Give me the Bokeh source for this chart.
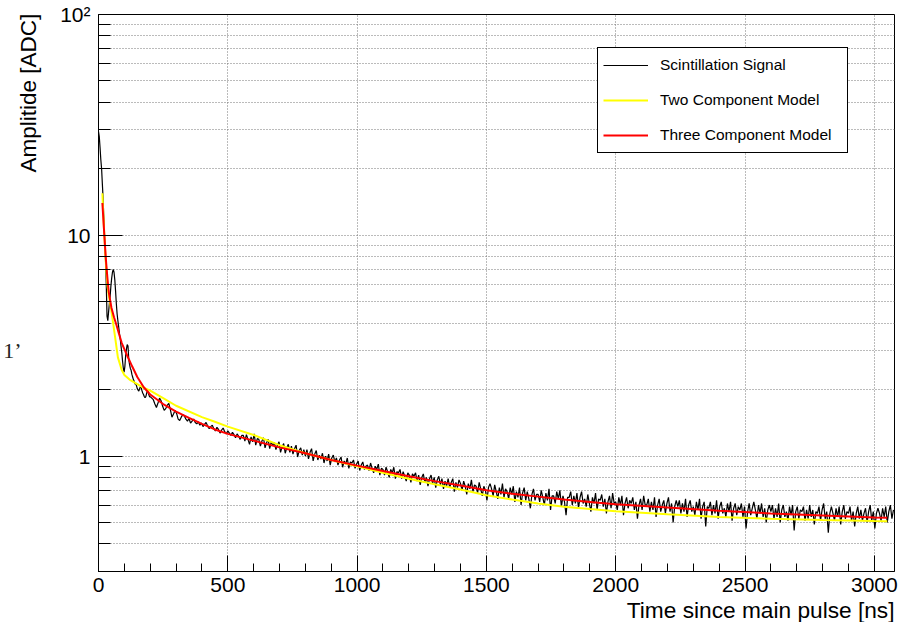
import numpy as np
from bokeh.plotting import figure
from bokeh.models import (Legend, LegendItem, Title, LogAxis,
                          FixedTicker, SingleIntervalTicker)
from bokeh.embed import file_html
from bokeh.resources import INLINE

# ---- data -------------------------------------------------------------
# Scintillation signal, first 200 ns sampled every 3 ns (prompt peak + ringing)
early_step = 3
signal_early = [
    29.5, 28.0, 25.0, 22.0, 20.0, 17.0, 14.5, 11.5, 9.5, 7.8,
    6.0, 4.3, 4.1, 4.5, 4.9, 5.3, 5.9, 6.4, 6.8, 7.0,
    6.8, 6.3, 5.6, 4.9, 4.4, 4.1, 3.85, 3.6, 3.4, 3.15,
    2.95, 2.7, 2.5, 2.4, 2.55, 2.85, 3.05, 3.2, 3.15, 2.75,
    2.6, 2.5, 2.45, 2.35, 2.28, 2.22, 2.18, 2.12, 2.13, 2.08,
    2.02, 1.99, 1.97, 2.02, 2.06, 2.04, 1.98, 1.93, 1.90, 1.86,
    1.84, 1.86, 1.92, 1.97, 1.95, 1.89, 1.85,
]

# Scintillation signal from 200 ns on, sampled every 6 ns (slow tail)
late_start = 200
late_step = 6
signal_late = [
    1.86, 1.83, 1.80, 1.72, 1.66, 1.74, 1.83, 1.78, 1.68, 1.61,
    1.64, 1.70, 1.73, 1.62, 1.50, 1.55, 1.61, 1.56, 1.47, 1.45,
    1.50, 1.54, 1.52, 1.47, 1.44, 1.48, 1.41, 1.44, 1.47, 1.42,
    1.40, 1.43, 1.38, 1.41, 1.36, 1.39, 1.42, 1.37, 1.33, 1.36,
    1.38, 1.33, 1.30, 1.35, 1.32, 1.27, 1.31, 1.34, 1.29, 1.26,
    1.30, 1.27, 1.24, 1.28, 1.25, 1.21, 1.26, 1.23, 1.19, 1.24,
    1.24, 1.17, 1.25, 1.19, 1.13, 1.22, 1.16, 1.26, 1.12, 1.20,
    1.19, 1.11, 1.17, 1.21, 1.09, 1.15, 1.19, 1.08, 1.16, 1.12,
    1.15, 1.07, 1.12, 1.16, 1.04, 1.10, 1.14, 1.03, 1.09, 1.13,
    1.04, 1.11, 1.02, 1.08, 1.12, 0.99, 1.06, 1.09, 1.01, 1.07,
    1.00, 1.07, 0.97, 1.04, 1.08, 0.95, 1.02, 1.06, 0.96, 1.01,
    0.97, 1.03, 0.93, 1.00, 0.95, 1.02, 0.91, 0.98, 1.01, 0.94,
    0.98, 0.91, 0.96, 0.99, 0.89, 0.95, 0.92, 0.98, 0.88, 0.94,
    0.93, 0.96, 0.88, 0.92, 0.95, 0.86, 0.91, 0.94, 0.87, 0.90,
    0.91, 0.86, 0.93, 0.88, 0.84, 0.90, 0.87, 0.92, 0.82, 0.88,
    0.87, 0.82, 0.89, 0.85, 0.80, 0.87, 0.84, 0.89, 0.79, 0.85,
    0.84, 0.87, 0.79, 0.85, 0.81, 0.77, 0.84, 0.82, 0.76, 0.83,
    0.81, 0.84, 0.77, 0.82, 0.74, 0.80, 0.83, 0.76, 0.80, 0.73,
    0.79, 0.82, 0.75, 0.80, 0.72, 0.78, 0.81, 0.74, 0.79, 0.71,
    0.77, 0.73, 0.79, 0.72, 0.76, 0.79, 0.69, 0.76, 0.72, 0.78,
    0.75, 0.70, 0.77, 0.73, 0.67, 0.75, 0.71, 0.78, 0.69, 0.74,
    0.73, 0.68, 0.76, 0.71, 0.66, 0.73, 0.70, 0.63, 0.72, 0.75,
    0.71, 0.66, 0.74, 0.69, 0.64, 0.72, 0.67, 0.75, 0.65, 0.71,
    0.69, 0.64, 0.72, 0.67, 0.73, 0.62, 0.69, 0.65, 0.72, 0.60,
    0.68, 0.72, 0.63, 0.69, 0.64, 0.58, 0.67, 0.71, 0.63, 0.67,
    0.67, 0.62, 0.70, 0.65, 0.60, 0.68, 0.63, 0.71, 0.57, 0.66,
    0.66, 0.61, 0.69, 0.64, 0.70, 0.59, 0.66, 0.62, 0.54, 0.65,
    0.65, 0.69, 0.60, 0.66, 0.61, 0.68, 0.58, 0.65, 0.69, 0.61,
    0.64, 0.59, 0.67, 0.61, 0.56, 0.65, 0.61, 0.68, 0.57, 0.64,
    0.63, 0.67, 0.59, 0.64, 0.55, 0.62, 0.66, 0.58, 0.68, 0.61,
    0.62, 0.57, 0.65, 0.60, 0.66, 0.54, 0.61, 0.65, 0.58, 0.63,
    0.61, 0.65, 0.57, 0.62, 0.52, 0.60, 0.64, 0.57, 0.66, 0.60,
    0.60, 0.64, 0.56, 0.62, 0.57, 0.65, 0.53, 0.60, 0.64, 0.56,
    0.60, 0.63, 0.55, 0.61, 0.65, 0.56, 0.61, 0.50, 0.59, 0.63,
    0.59, 0.63, 0.55, 0.61, 0.56, 0.64, 0.53, 0.60, 0.63, 0.56,
    0.59, 0.54, 0.62, 0.57, 0.64, 0.52, 0.59, 0.62, 0.48, 0.59,
    0.58, 0.62, 0.54, 0.60, 0.55, 0.63, 0.52, 0.59, 0.62, 0.55,
    0.58, 0.53, 0.61, 0.56, 0.62, 0.51, 0.58, 0.61, 0.54, 0.59,
    0.57, 0.61, 0.53, 0.59, 0.47, 0.56, 0.61, 0.54, 0.58, 0.62,
    0.57, 0.52, 0.60, 0.55, 0.61, 0.53, 0.58, 0.50, 0.57, 0.60,
    0.56, 0.60, 0.52, 0.58, 0.53, 0.61, 0.50, 0.57, 0.60, 0.53,
    0.56, 0.51, 0.59, 0.54, 0.60, 0.46, 0.56, 0.59, 0.52, 0.57,
    0.56, 0.59, 0.51, 0.57, 0.52, 0.60, 0.53, 0.57, 0.49, 0.56,
    0.55, 0.59, 0.51, 0.57, 0.61, 0.52, 0.56, 0.45, 0.55, 0.59,
    0.55, 0.51, 0.58, 0.53, 0.59, 0.49, 0.56, 0.60, 0.52, 0.56,
    0.55, 0.59, 0.51, 0.56, 0.48, 0.55, 0.59, 0.52, 0.57, 0.51,
    0.55, 0.58, 0.50, 0.56, 0.60, 0.51, 0.56, 0.47, 0.55, 0.58,
    0.55, 0.51, 0.58, 0.53, 0.59, 0.50, 0.56, 0.60, 0.52, 0.57,
]

# Two component fit
two_t = [15, 20, 25, 30, 35, 40, 48, 60, 75, 90, 100, 120, 140, 170, 200,
         250, 300, 400, 450, 500, 600, 700, 800, 900, 1000, 1100, 1200,
         1300, 1400, 1500, 1600, 1700, 1800, 1900, 2000, 2200, 2400, 2600,
         2800, 3000, 3050]
two_val = [15.5, 11.5, 8.8, 7.0, 5.9, 5.3, 4.7, 3.75, 2.8, 2.45, 2.33, 2.22,
           2.15, 2.05, 1.98, 1.83, 1.69, 1.50, 1.43, 1.36, 1.245, 1.12, 1.03,
           0.96, 0.90, 0.84, 0.79, 0.745, 0.705, 0.665, 0.635, 0.61, 0.59,
           0.575, 0.563, 0.545, 0.53, 0.52, 0.513, 0.508, 0.507]

# Three component fit
three_t = [15, 20, 25, 30, 35, 40, 50, 60, 70, 80, 90, 100, 115, 130, 150,
           175, 200, 250, 300, 350, 400, 450, 500, 600, 700, 800, 900, 1000,
           1100, 1200, 1300, 1400, 1500, 1600, 1700, 1800, 1900, 2000, 2200,
           2400, 2600, 2800, 3000, 3050]
three_val = [14.0, 11.2, 9.0, 7.4, 6.3, 5.5, 4.7, 4.25, 3.9, 3.55, 3.25, 3.05,
             2.78, 2.55, 2.28, 2.05, 1.90, 1.72, 1.59, 1.49, 1.40, 1.32, 1.26,
             1.175, 1.095, 1.03, 0.96, 0.905, 0.855, 0.81, 0.77, 0.735, 0.70,
             0.675, 0.655, 0.635, 0.62, 0.605, 0.585, 0.565, 0.55, 0.538,
             0.527, 0.525]

y_major = [1, 10, 100]
y_minor = [0.3, 0.4, 0.5, 0.6, 0.7, 0.8, 0.9,
           2, 3, 4, 5, 6, 7, 8, 9,
           20, 30, 40, 50, 60, 70, 80, 90]
y_labels = {1: "1", 10: "10", 100: "10\u00b2"}

time = np.concatenate([
    np.arange(len(signal_early)) * early_step,
    late_start + np.arange(len(signal_late)) * late_step,
])
signal = np.array(signal_early + signal_late)

# ---- figure -----------------------------------------------------------
FONT = "Liberation Sans"

p = figure(width=900, height=622, y_axis_type="log",
           x_range=(0, 3078), y_range=(0.3, 100),
           output_backend="svg", toolbar_location=None,
           min_border_left=97, min_border_right=6,
           min_border_top=14, min_border_bottom=51)
p.background_fill_color = "white"
p.border_fill_color = "white"
p.outline_line_color = "black"
p.outline_line_alpha = 1.0
p.outline_line_width = 1

# axes
xax = p.xaxis[0]
yax = p.yaxis[0]
xax.ticker = SingleIntervalTicker(interval=500, num_minor_ticks=5)
yax.ticker = FixedTicker(ticks=y_major, minor_ticks=y_minor)
yax.major_label_overrides = y_labels
for ax in (xax, yax):
    ax.major_tick_out = 0
    ax.minor_tick_out = 0
    ax.axis_line_color = "black"
    ax.major_tick_line_color = "black"
    ax.minor_tick_line_color = "black"
    ax.major_label_text_font = FONT
    ax.major_label_text_font_size = "21px"
    ax.major_label_text_color = "black"
xax.major_tick_in = 16
xax.minor_tick_in = 8
yax.major_tick_in = 24
yax.minor_tick_in = 12
xax.major_label_standoff = 6
yax.major_label_standoff = 8

# dotted grid
p.xgrid.grid_line_color = "#777777"
p.xgrid.grid_line_dash = "1 2"
p.ygrid.grid_line_color = "#777777"
p.ygrid.grid_line_dash = "1 2"
p.ygrid.minor_grid_line_color = "#777777"
p.ygrid.minor_grid_line_dash = "1 2"

# curves
r_sig = p.line(time, signal, line_color="black", line_width=1.2)
r_two = p.line(two_t, two_val, line_color="#ffff00", line_width=2)
r_three = p.line(three_t, three_val, line_color="#ff0000", line_width=2)

legend = Legend(
    items=[LegendItem(label="Scintillation Signal", renderers=[r_sig]),
           LegendItem(label="Two Component Model", renderers=[r_two]),
           LegendItem(label="Three Component Model", renderers=[r_three])],
    location=(499, 418), orientation="vertical",
    border_line_color="black", border_line_width=1, border_line_alpha=1,
    background_fill_color="white", background_fill_alpha=1,
    label_text_font=FONT, label_text_font_size="15.5px",
    label_text_color="black",
    glyph_width=45, glyph_height=24, label_height=24, label_width=182,
    spacing=11, padding=5, label_standoff=12, margin=0,
)
p.add_layout(legend)


def bare_left_axis(tick, text, font, size, standoff, orientation="horizontal"):
    """A left-side axis with no line or ticks that only shows one text."""
    return LogAxis(ticker=FixedTicker(ticks=[tick], minor_ticks=[]),
                   major_label_overrides={tick: text},
                   major_label_orientation=orientation,
                   axis_line_alpha=0, major_tick_line_alpha=0,
                   minor_tick_line_alpha=0, major_tick_in=0, major_tick_out=0,
                   minor_tick_in=0, minor_tick_out=0,
                   major_label_standoff=standoff,
                   major_label_text_font=font,
                   major_label_text_font_size=size,
                   major_label_text_color="black")


# y title sitting at the top end of the axis
p.add_layout(bare_left_axis(44, "Amplitide [ADC]", FONT, "22.5px", 16,
                            orientation="vertical"), "left")

# fragment of neighbouring page text in the left margin
frag = bare_left_axis(3, "1\u2019", "Liberation Serif", "22px", -8)
frag.major_label_text_color = "#222222"
p.add_layout(frag, "left")

# x title at the right end of the axis
p.add_layout(Title(text="Time since main pulse [ns]", align="right",
                   text_font=FONT, text_font_size="22.7px",
                   text_font_style="normal", text_color="black",
                   standoff=0, offset=0), "below")

open("out.html", "w").write(file_html(p, INLINE))
